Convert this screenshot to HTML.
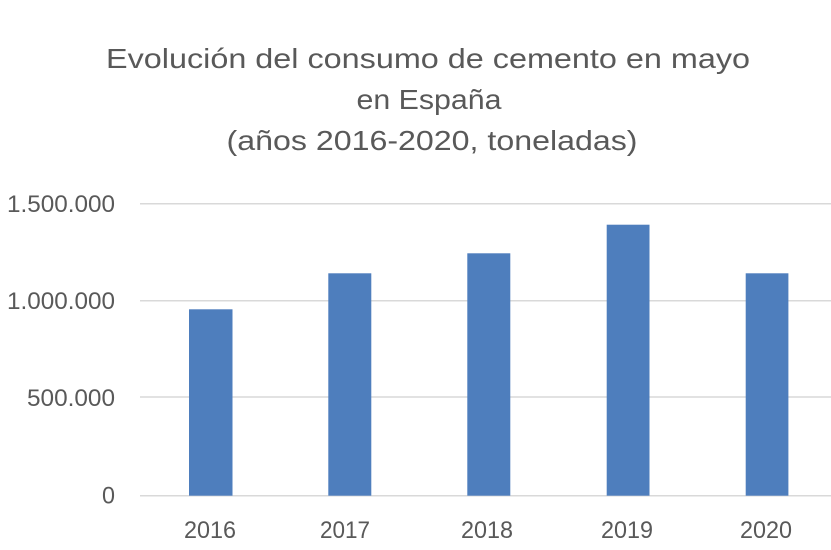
<!DOCTYPE html>
<html>
<head>
<meta charset="utf-8">
<style>
html,body{margin:0;padding:0;background:#fff;}
svg{display:block;}
text{font-family:"Liberation Sans",sans-serif;fill:#595959;}
</style>
</head>
<body>
<svg width="831" height="550" viewBox="0 0 831 550" xmlns="http://www.w3.org/2000/svg">
<rect width="831" height="550" fill="#fff"/>
<!-- Title -->
<text x="428" y="68" font-size="28" text-anchor="middle" textLength="644" lengthAdjust="spacingAndGlyphs">Evolución del consumo de cemento en mayo</text>
<text x="429" y="109" font-size="28" text-anchor="middle" textLength="145" lengthAdjust="spacingAndGlyphs">en España</text>
<text x="432" y="150" font-size="28" text-anchor="middle" textLength="411" lengthAdjust="spacingAndGlyphs">(años 2016-2020, toneladas)</text>
<!-- Gridlines -->
<g stroke="#d9d9d9" stroke-width="1.5">
<line x1="140" y1="203.7" x2="831" y2="203.7"/>
<line x1="140" y1="300.7" x2="831" y2="300.7"/>
<line x1="140" y1="397" x2="831" y2="397"/>
<line x1="140" y1="495.7" x2="831" y2="495.7"/>
</g>
<!-- Bars -->
<g fill="#4e7ebd">
<rect x="189" y="309.3" width="43.5" height="186.4"/>
<rect x="328.3" y="273.3" width="43" height="222.4"/>
<rect x="467.3" y="253.3" width="43" height="242.4"/>
<rect x="606.7" y="224.7" width="42.8" height="271"/>
<rect x="745.7" y="273.3" width="42.7" height="222.4"/>
</g>
<!-- Y labels -->
<g font-size="24" text-anchor="end">
<text x="115" y="212" textLength="108" lengthAdjust="spacingAndGlyphs">1.500.000</text>
<text x="115" y="309" textLength="108" lengthAdjust="spacingAndGlyphs">1.000.000</text>
<text x="115" y="406" textLength="88" lengthAdjust="spacingAndGlyphs">500.000</text>
<text x="115" y="503.5" textLength="13" lengthAdjust="spacingAndGlyphs">0</text>
</g>
<!-- X labels -->
<g font-size="24" text-anchor="middle">
<text x="210" y="538" textLength="52" lengthAdjust="spacingAndGlyphs">2016</text>
<text x="345" y="538" textLength="50" lengthAdjust="spacingAndGlyphs">2017</text>
<text x="487" y="538" textLength="52" lengthAdjust="spacingAndGlyphs">2018</text>
<text x="627" y="538" textLength="52" lengthAdjust="spacingAndGlyphs">2019</text>
<text x="766" y="538" textLength="52" lengthAdjust="spacingAndGlyphs">2020</text>
</g>
</svg>
</body>
</html>
